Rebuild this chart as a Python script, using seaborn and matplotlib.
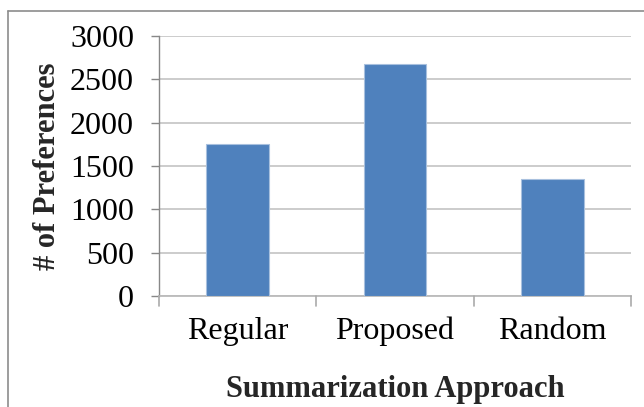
import matplotlib
matplotlib.use("Agg")
import matplotlib.pyplot as plt
import seaborn as sns
import pandas as pd
from matplotlib.lines import Line2D

categories = ["Regular", "Proposed", "Random"]
values = [1755, 2675, 1355]
y_ticks = [0, 500, 1000, 1500, 2000, 2500, 3000]

sns.set_theme(style="white")
plt.rcParams['font.family'] = ['Liberation Serif', 'DejaVu Serif']

df = pd.DataFrame({"cat": categories, "val": values})

fig = plt.figure(figsize=(6.44, 4.07), dpi=100)
ax = fig.add_axes([159/644, 1-296/407, (631-159)/644, (296-36)/407])

sns.barplot(data=df, x="cat", y="val", color="#4F81BD", saturation=1,
            width=0.4, ax=ax, zorder=3, edgecolor="#A8C0DE", linewidth=0.8)

FS = 23
ax.set_ylim(0, 3000)
ax.set_xlim(-0.5, 2.5)
ax.set_yticks(y_ticks)
ax.set_yticklabels([str(t) for t in y_ticks], fontsize=FS)
ax.tick_params(axis='x', labelsize=FS, length=0, pad=15)
ax.tick_params(axis='y', length=6, width=1, color="#888888", left=True, pad=12)
for lbl in ax.get_xticklabels() + ax.get_yticklabels():
    lbl.set_color("black")

ax.yaxis.grid(True, color="#C8C8C8", linewidth=1.3, zorder=0)
ax.xaxis.grid(False)
for s in ["top", "right"]:
    ax.spines[s].set_visible(False)
ax.spines["left"].set_color("#888888")
ax.spines["left"].set_linewidth(1)
ax.spines["bottom"].set_color("#BBBBBB")
ax.spines["bottom"].set_linewidth(1.3)

# category boundary ticks on x axis
for xb in [-0.5, 0.5, 1.5, 2.5]:
    ax.plot([xb, xb], [0, -0.038], transform=ax.get_xaxis_transform(),
            color="#AAAAAA", linewidth=1.2, clip_on=False, zorder=4)

ax.set_xlabel("Summarization Approach", fontsize=22, fontweight="bold", labelpad=21)
ax.set_ylabel("# of Preferences", fontsize=22, fontweight="bold", labelpad=6)

# outer chart border (top and left visible)
fig.add_artist(Line2D([8/644, 1], [1-10.5/407, 1-10.5/407], color="#8C8C8C", linewidth=1.2))
fig.add_artist(Line2D([8/644, 8/644], [0, 1-10.5/407], color="#8C8C8C", linewidth=1.2))

fig.savefig("out.png", dpi=100, facecolor="white")
